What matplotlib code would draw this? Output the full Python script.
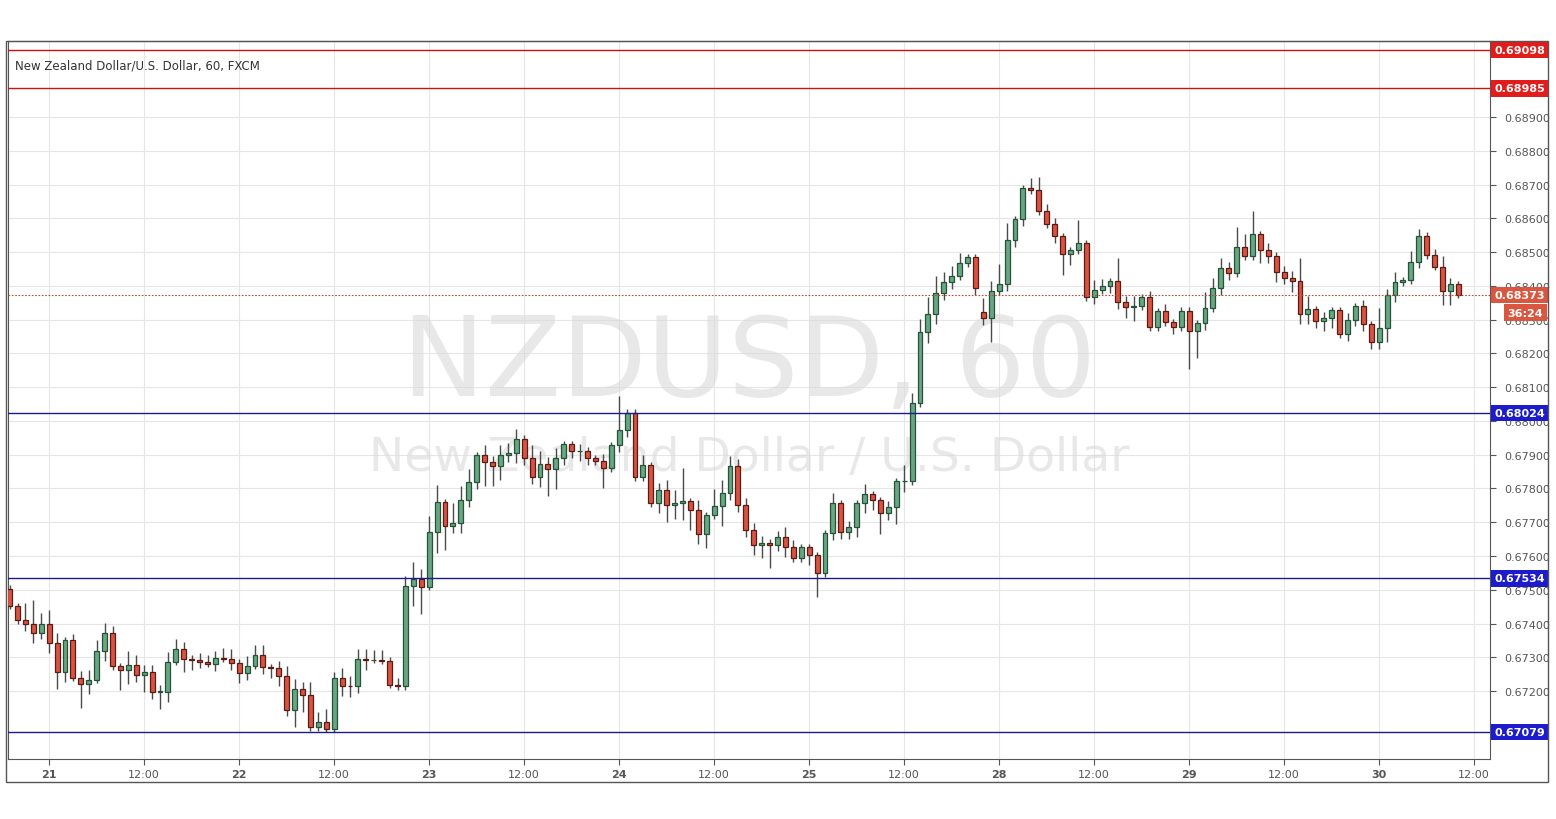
import numpy as np
import matplotlib
matplotlib.use('Agg')
import matplotlib.pyplot as plt
from matplotlib.patches import Rectangle

# hourly closes NZD/USD (FXCM)
closes = [
    0.67452, 0.67410, 0.67399, 0.67373, 0.67400, 0.67343, 0.67257, 0.67350, 0.67239, 0.67221,
    0.67233, 0.67320, 0.67373, 0.67274, 0.67262, 0.67278, 0.67248, 0.67257, 0.67198, 0.67198,
    0.67287, 0.67325, 0.67296, 0.67293, 0.67287, 0.67281, 0.67299, 0.67296, 0.67284, 0.67254,
    0.67275, 0.67307, 0.67271, 0.67268, 0.67244, 0.67145, 0.67206, 0.67188, 0.67093, 0.67108,
    0.67088, 0.67238, 0.67216, 0.67214, 0.67295, 0.67292, 0.67292, 0.67290, 0.67219, 0.67214,
    0.67511, 0.67531, 0.67508, 0.67670, 0.67759, 0.67688, 0.67697, 0.67766, 0.67819, 0.67899,
    0.67877, 0.67866, 0.67899, 0.67905, 0.67947, 0.67890, 0.67833, 0.67872, 0.67857, 0.67890,
    0.67931, 0.67910, 0.67912, 0.67890, 0.67881, 0.67860, 0.67928, 0.67973, 0.68024, 0.67833,
    0.67869, 0.67756, 0.67795, 0.67751, 0.67756, 0.67762, 0.67736, 0.67665, 0.67721, 0.67748,
    0.67786, 0.67866, 0.67751, 0.67677, 0.67634, 0.67640, 0.67634, 0.67655, 0.67626, 0.67593,
    0.67626, 0.67602, 0.67549, 0.67667, 0.67756, 0.67670, 0.67685, 0.67756, 0.67783, 0.67765,
    0.67726, 0.67744, 0.67821, 0.67821, 0.68052, 0.68262, 0.68318, 0.68378, 0.68410, 0.68428,
    0.68467, 0.68484, 0.68393, 0.68304, 0.68384, 0.68404, 0.68535, 0.68598, 0.68689, 0.68683,
    0.68621, 0.68582, 0.68547, 0.68493, 0.68505, 0.68526, 0.68366, 0.68387, 0.68399, 0.68413,
    0.68351, 0.68336, 0.68339, 0.68366, 0.68277, 0.68325, 0.68292, 0.68277, 0.68327, 0.68265,
    0.68289, 0.68333, 0.68393, 0.68452, 0.68437, 0.68514, 0.68487, 0.68553, 0.68507, 0.68489,
    0.68440, 0.68424, 0.68413, 0.68318, 0.68330, 0.68295, 0.68304, 0.68328, 0.68256, 0.68300,
    0.68339, 0.68286, 0.68233, 0.68274, 0.68372, 0.68410, 0.68416, 0.68472, 0.68549, 0.68490,
    0.68457, 0.68384, 0.68404, 0.68373,
]
first_open = 0.67503
gap_index = 123          # weekend gap: first candle of the 28th
gap_open = 0.68324

# wick lengths in pips above / below the body
wick_up = [
    1, 1, 5, 7, 3, 4, 3, 1, 2, 2,  3, 3, 3, 2, 1, 4, 3, 2, 2, 2,
    3, 3, 2, 1, 2, 2, 2, 3, 3, 1,  3, 3, 3, 1, 2, 3, 3, 2, 4, 3,
    4, 2, 3, 3, 3, 3, 3, 3, 1, 2,  3, 5, 3, 5, 5, 1, 6, 4, 4, 1,
    3, 2, 3, 3, 3, 1, 4, 4, 2, 3,  1, 1, 2, 1, 1, 2, 1, 10, 1, 1,
    3, 1, 2, 3, 4, 10, 1, 3, 1, 5,  4, 3, 2, 2, 2, 2, 1, 2, 3, 2,
    1, 1, 1, 1, 3, 1, 2, 1, 3, 1,  1, 2, 1, 5, 3, 4, 5, 5, 3, 3,
    3, 1, 1, 4, 3, 6, 5, 1, 1, 3,  4, 2, 2, 1, 1, 7, 1, 3, 2, 1,
    7, 2, 3, 1, 2, 1, 2, 1, 1, 1,  1, 5, 3, 3, 2, 6, 4, 7, 1, 2,
    1, 2, 2, 7, 4, 1, 2, 1, 1, 2,  1, 2, 1, 6, 2, 3, 1, 3, 2, 1,
    2, 3, 2, 1,
]
wick_dn = [
    1, 1, 2, 3, 2, 3, 5, 3, 1, 7,  3, 1, 3, 1, 6, 4, 2, 5, 2, 5,
    3, 1, 4, 3, 2, 1, 2, 1, 2, 3,  2, 1, 2, 3, 3, 2, 5, 5, 1, 1,
    1, 1, 3, 3, 2, 3, 1, 1, 1, 1,  1, 6, 8, 1, 6, 7, 2, 3, 2, 2,
    7, 6, 4, 2, 3, 2, 2, 3, 8, 6,  2, 2, 3, 2, 1, 6, 1, 2, 2, 1,
    1, 1, 3, 5, 4, 5, 6, 3, 4, 1,  6, 2, 2, 2, 3, 4, 7, 2, 3, 1,
    1, 3, 7, 1, 2, 2, 2, 3, 3, 3,  6, 2, 5, 3, 1, 1, 3, 3, 2, 2,
    1, 1, 2, 2, 7, 1, 2, 2, 2, 1,  1, 1, 2, 6, 3, 1, 1, 2, 1, 2,
    2, 3, 4, 1, 1, 1, 1, 2, 1, 11,  8, 2, 1, 2, 2, 1, 1, 1, 4, 2,
    3, 2, 3, 3, 3, 2, 3, 3, 1, 2,  2, 2, 2, 2, 4, 2, 1, 1, 2, 1,
    1, 4, 4, 1,
]

tick_pos = [5, 17, 29, 41, 53, 65, 77, 89, 101, 113, 125, 137, 149, 161, 173, 185]
tick_labels = ['21', '12:00', '22', '12:00', '23', '12:00', '24', '12:00',
               '25', '12:00', '28', '12:00', '29', '12:00', '30', '12:00']

red_levels = [0.69098, 0.68985]
blue_levels = [0.68024, 0.67534, 0.67079]
last_price = 0.68373

opens = [first_open] + closes[:-1]
opens[gap_index] = gap_open
opens = np.array(opens)
closes = np.array(closes)
x = np.arange(len(closes))
highs = np.maximum(opens, closes) + np.array(wick_up) * 1e-4
lows = np.minimum(opens, closes) - np.array(wick_dn) * 1e-4

W, H = 1556, 820
fig = plt.figure(figsize=(W / 100, H / 100), dpi=100)
ax = fig.add_axes([8 / W, 1 - 760 / H, (1490 - 8) / W, (760 - 42) / H])

up = closes >= opens
ax.vlines(x, lows, highs, color='#4a4a4a', lw=1, zorder=2)
body = np.maximum(np.abs(closes - opens), 0.000015)
ax.bar(x[up], body[up], bottom=opens[up], width=0.62, color='#6ba583',
       edgecolor='#225437', lw=0.9, zorder=3)
ax.bar(x[~up], body[~up], bottom=closes[~up], width=0.62, color='#d75442',
       edgecolor='#5b1a13', lw=0.9, zorder=3)

for lv in red_levels:
    ax.axhline(lv, color='#d01010', lw=1, zorder=4)
for lv in blue_levels:
    ax.axhline(lv, color='#1b1b8a', lw=1, zorder=4)
ax.axhline(last_price, color='#b0522f', lw=0.8, ls=(0, (1.5, 1.5)), zorder=4)

ax.set_xlim(-0.2, 187)
ax.set_ylim(0.66999, 0.69125)
ax.set_xticks(tick_pos)
ax.set_xticklabels(tick_labels)
for lab in ax.get_xticklabels():
    if ':' not in lab.get_text():
        lab.set_fontweight('bold')
yt = np.arange(0.672, 0.6891, 0.001)
ax.yaxis.tick_right()
ax.set_yticks(yt)
ax.set_yticklabels([f'{v:.5f}' for v in yt])
ax.tick_params(axis='both', labelsize=8, colors='#555555', length=4)
ax.tick_params(axis='y', pad=6)
ax.grid(color='#e6e6e6', lw=0.8)
ax.set_axisbelow(True)
for s in ax.spines.values():
    s.set_color('#555555')

# price boxes on the right axis
def tag(val, text, fc):
    ax.annotate(text, xy=(1.003, val), xycoords=('axes fraction', 'data'),
                va='center', ha='left', fontsize=8, fontweight='bold', color='white',
                bbox=dict(boxstyle='square,pad=0.3', fc=fc, ec='none'), zorder=6)

for lv in red_levels:
    tag(lv, f'{lv:.5f}', '#e21b1b')
for lv in blue_levels:
    tag(lv, f'{lv:.5f}', '#1c1ccc')
tag(last_price, f'{last_price:.5f}', '#d9573f')
ax.annotate('36:24', xy=(1.012, last_price - 0.00052), xycoords=('axes fraction', 'data'),
            va='center', ha='left', fontsize=8, fontweight='bold', color='white',
            bbox=dict(boxstyle='square,pad=0.3', fc='#d9573f', ec='none'), zorder=6)

# watermark and title
ax.text(0.5, 0.55, 'NZDUSD, 60', transform=ax.transAxes, ha='center', va='center',
        fontsize=80, color='#dadada', alpha=0.6, zorder=1)
ax.text(0.5, 0.42, 'New Zealand Dollar / U.S. Dollar', transform=ax.transAxes,
        ha='center', va='center', fontsize=34, color='#dadada', alpha=0.6, zorder=1)
ax.text(0.005, 0.975, 'New Zealand Dollar/U.S. Dollar, 60, FXCM', transform=ax.transAxes,
        ha='left', va='top', fontsize=8.5, color='#333333')

fig.add_artist(Rectangle((6 / W, 1 - 783 / H), (1548 - 6) / W, (783 - 42) / H,
                         transform=fig.transFigure, fill=False, ec='#555555', lw=1))

fig.savefig('out.png', dpi=100)
